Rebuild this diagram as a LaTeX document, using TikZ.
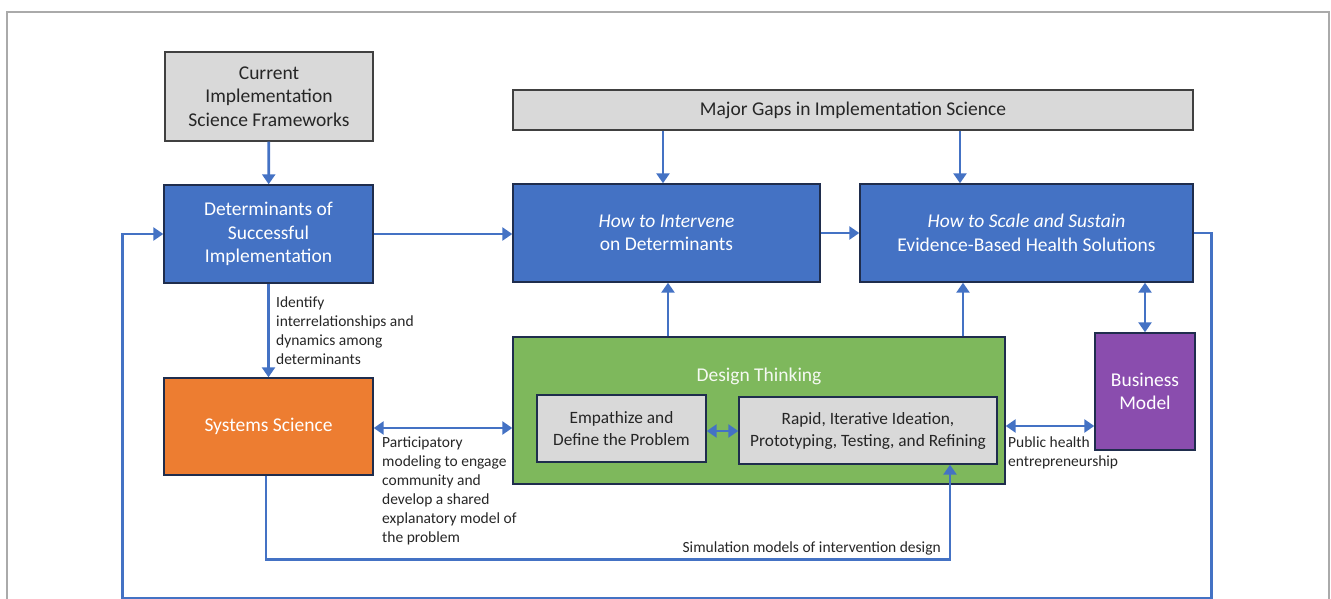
\documentclass[tikz,border=0pt]{standalone}
\usepackage{fontspec}
\setmainfont{Carlito}
\usetikzlibrary{arrows.meta}
\definecolor{cblue}{HTML}{4472C4}
\definecolor{cnavy}{HTML}{1F2D4D}
\definecolor{cgray}{HTML}{D9D9D9}
\definecolor{cgrayline}{HTML}{404040}
\definecolor{corange}{HTML}{ED7D31}
\definecolor{cgreen}{HTML}{7EB85C}
\definecolor{cpurple}{HTML}{8A4DAE}
\definecolor{ctext}{HTML}{262626}
\definecolor{cframe}{HTML}{AAAAAA}
\tikzset{
  box/.style={draw=cnavy, line width=1.4pt, inner sep=0pt, align=center,
    font=\fontsize{19.5}{23.5}\selectfont},
  graybox/.style={box, draw=cgrayline, fill=cgray, text=ctext},
  innerbox/.style={graybox, draw=cnavy, font=\fontsize{17.3}{22}\selectfont},
  bluebox/.style={box, fill=cblue, text=white},
  lbl/.style={inner sep=0pt, align=left, text=ctext,
    font=\fontsize{15.5}{19}\selectfont},
  arr/.style={draw=cblue, line width=2.8pt,
    -{Triangle[length=10pt,width=13pt]}},
  darr/.style={draw=cblue, line width=2.8pt,
    {Triangle[length=10pt,width=13pt]}-{Triangle[length=10pt,width=13pt]}}
}
\begin{document}
\begin{tikzpicture}[x=1pt,y=-1pt]
\useasboundingbox (0,0) rectangle (1331,599);
\clip (0,0) rectangle (1331,599);
% page frame
\draw[cframe, line width=1.5pt] (7,620) |- (1329,12) -- (1329,620);

% boxes
\node[graybox, minimum width=208, minimum height=89] (cur) at (269,96.5)
  {Current\\Implementation\\Science Frameworks};
\node[bluebox, minimum width=209, minimum height=98] (det) at (268.5,234)
  {Determinants of\\Successful\\Implementation};
\node[graybox, minimum width=680, minimum height=40] (gaps) at (853,110)
  {Major Gaps in Implementation Science};
\node[bluebox, minimum width=307, minimum height=98] (interv) at (666.5,233)
  {\textit{How to Intervene}\\on Determinants};
\node[bluebox, minimum width=333, minimum height=98] (scale) at (1026.5,233)
  {\textit{How to Scale and Sustain}\\Evidence-Based Health Solutions};
\node[box, fill=corange, text=white, minimum width=209, minimum height=97] (sys)
  at (268.5,426.5) {Systems Science};
\node[box, fill=cgreen, minimum width=492, minimum height=147] (design)
  at (759,410.5) {};
\node[text=white!92!cgreen, font=\fontsize{19.5}{23.5}\selectfont, inner sep=0pt]
  (dtitle) at (759,376) {Design Thinking};
\node[innerbox, minimum width=169, minimum height=67] (emp) at (621.5,428.5)
  {Empathize and\\Define the Problem};
\node[innerbox, minimum width=258, minimum height=67] (rapid) at (868,430.5)
  {Rapid, Iterative Ideation,\\Prototyping, Testing, and Refining};
\node[box, fill=cpurple, text=white, minimum width=100, minimum height=117] (biz)
  at (1145,391.5) {Business\\Model};

% connectors
\draw[arr] (cur) -- (det);
\draw[arr] (det) -- (sys);
\draw[arr] (det.east) -- (det.east -| interv.west);
\draw[arr] (interv.east |- scale.west) -- (scale.west);
\draw[arr] ([xshift=-3.5]interv.north |- gaps.south) -- ([xshift=-3.5]interv.north);
\draw[arr] ([xshift=-66.5]scale.north |- gaps.south) -- ([xshift=-66.5]scale.north);
\draw[arr] ([xshift=1.5]interv.south |- design.north) -- ([xshift=1.5]interv.south);
\draw[arr] ([xshift=-63.5]scale.south |- design.north) -- ([xshift=-63.5]scale.south);
\draw[darr] (biz.north) -- (biz.north |- scale.south);
\draw[darr] ([yshift=-1.5]sys.east) -- ([yshift=-1.5]sys.east -| design.west);
\draw[darr] ([yshift=-2.5]emp.east) -- ([yshift=-2.5]emp.east -| rapid.west);
\draw[darr] ([yshift=-34.5]biz.west) -- ([yshift=-34.5]biz.west -| design.east);
\draw[arr] ([xshift=-2.5]sys.south) -- ++(0,84) -| ([xshift=82]rapid.south);
\draw[arr] (scale.east) -| ++(18,365) -| ([xshift=-41]det.west) -- (det.west);

% connector labels
\node[lbl, anchor=north west] (lident) at (276,297)
  {Identify\\interrelationships and\\dynamics among\\determinants};
\node[lbl, anchor=north west] (lpart) at (382,437)
  {Participatory\\modeling to engage\\community and\\develop a shared\\explanatory model of\\the problem};
\node[lbl, anchor=north west] (lpub) at (1008,437)
  {Public health\\entrepreneurship};
\node[lbl, anchor=south east] (lsim) at (941,555)
  {Simulation models of intervention design};
\end{tikzpicture}
\end{document}
